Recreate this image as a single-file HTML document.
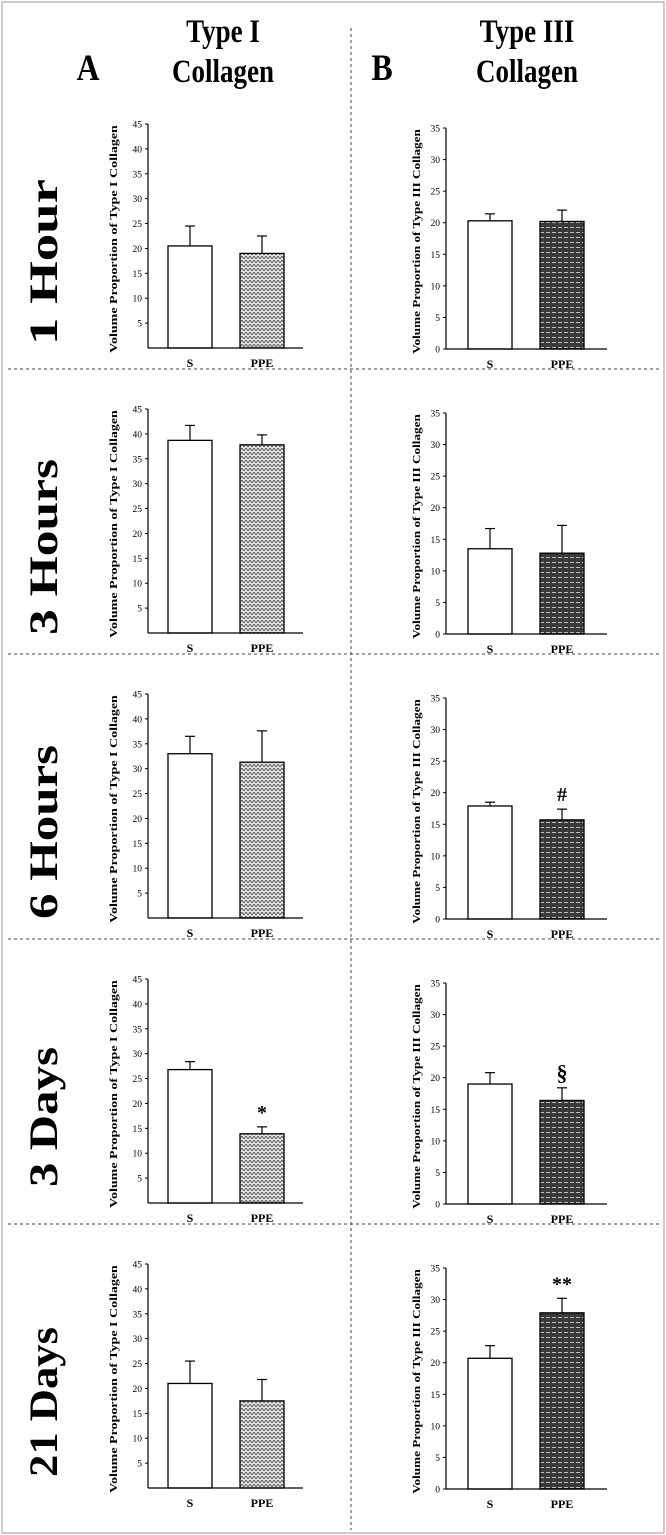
<!DOCTYPE html>
<html><head><meta charset="utf-8"><style>
html,body{margin:0;padding:0;background:#fff}
svg{display:block}
text{font-family:"Liberation Serif",serif;font-weight:bold;fill:#000}
</style></head><body>
<svg id="fig" width="666" height="1535" viewBox="0 0 666 1535">
<defs>
<pattern id="patA" width="4" height="4" patternUnits="userSpaceOnUse">
<rect width="4" height="4" fill="#e4e4e4"/><path d="M0 3 L2 0 L4 3" stroke="#555" stroke-width="0.9" fill="none"/>
</pattern>
<pattern id="patB" width="6" height="5" patternUnits="userSpaceOnUse">
<rect width="6" height="5" fill="#3a3a3a"/><line x1="0" y1="2.5" x2="4" y2="2.5" stroke="#ddd" stroke-width="0.8"/>
</pattern>
</defs>
<rect x="2" y="2" width="662" height="1531" fill="none" stroke="#999" stroke-width="1"/>
<line x1="351" y1="28" x2="351" y2="1530" stroke="#444" stroke-dasharray="3,3"/>
<text x="0" y="0" font-size="32" text-anchor="middle" transform="translate(88 80) scale(1 1.15)">A</text>
<text x="0" y="0" font-size="27" text-anchor="middle" transform="translate(223 42) scale(1 1.2)">Type I</text>
<text x="0" y="0" font-size="27" text-anchor="middle" transform="translate(223 82) scale(1 1.2)">Collagen</text>
<text x="0" y="0" font-size="32" text-anchor="middle" transform="translate(382 80) scale(1 1.15)">B</text>
<text x="0" y="0" font-size="27" text-anchor="middle" transform="translate(527 42) scale(1 1.2)">Type III</text>
<text x="0" y="0" font-size="27" text-anchor="middle" transform="translate(527 82) scale(1 1.2)">Collagen</text>
<g id="charts"></g>
</svg>
<script>
const rowLabels = ["1 Hour","3 Hours","6 Hours","3 Days","21 Days"];
const categories = ["S","PPE"];
const type1Means = [[20.5,19.0],[38.7,37.8],[33.0,31.3],[26.8,13.9],[21.0,17.5]];
const type1Errs  = [[4.0,3.5],[3.0,2.0],[3.5,6.3],[1.6,1.4],[4.5,4.3]];
const type1Marks = ["","","","*",""];
const type3Means = [[20.3,20.2],[13.5,12.8],[17.9,15.7],[19.0,16.4],[20.7,27.9]];
const type3Errs  = [[1.1,1.8],[3.2,4.4],[0.6,1.7],[1.8,2.0],[2.0,2.3]];
const type3Marks = ["","","#","§","**"];
const type1Ticks = [5,10,15,20,25,30,35,40,45];
const type3Ticks = [0,5,10,15,20,25,30,35];

const NS="http://www.w3.org/2000/svg";
const root=document.getElementById('charts');
function mk(tag,attrs,parent){const e=document.createElementNS(NS,tag);for(const k in attrs)e.setAttribute(k,attrs[k]);(parent||root).appendChild(e);return e;}
const STEP=285;
const rowLabelLen=[166,176,174,140,150];

// vertical text stretched along its length to target
function vtext(el,cx,cy,target){
  let len=0;try{len=el.getComputedTextLength();}catch(e){}
  const s=len>0?target/len:1;
  el.setAttribute('transform',`translate(${cx} ${cy}) rotate(-90) scale(${s} 1)`);
}

function chart(r,side){
  const left=side===0;
  const g=mk('g',{});
  
  
  const ax=left?148:446, x1=left?303:607;
  const top=(left?124:128)+r*STEP, base=348+r*STEP+(left?0:1);
  const ymax=left?45:35;
  const y=v=>base-(v/ymax)*(base-top);
  const means=left?type1Means[r]:type3Means[r], errs=left?type1Errs[r]:type3Errs[r];
  const barX=left?[168,240]:[468,540], bw=44;
  for(let i=0;i<2;i++){
    const eb=mk('line',{x1:barX[i]+bw/2,x2:barX[i]+bw/2,y1:y(means[i]),y2:y(means[i]+errs[i]),stroke:'#000','stroke-width':1.2},g);
    
    
    const cap=mk('line',{x1:barX[i]+bw/2-5,x2:barX[i]+bw/2+5,y1:y(means[i]+errs[i]),y2:y(means[i]+errs[i]),stroke:'#000','stroke-width':1.2},g);
    
    
    const b=mk('rect',{x:barX[i],y:y(means[i]),width:bw,height:base-y(means[i]),fill:i===0?'#fff':(left?'url(#patA)':'url(#patB)'),stroke:'#000','stroke-width':1.3},g);
    
    
    const t=mk('text',{x:barX[i]+bw/2,y:base+19,'font-size':12,'text-anchor':'middle'},g);
    t.textContent=categories[i];
    
    
  }
  const mark=left?type1Marks[r]:type3Marks[r];
  if(mark){
    const m=mk('text',{x:barX[1]+bw/2,y:y(means[1]+errs[1])-8,'font-size':mark==='§'?22:20,'text-anchor':'middle'},g);
    m.textContent=mark;
    
    
  }
  const ya=mk('line',{x1:ax,x2:ax,y1:top,y2:base,stroke:'#000','stroke-width':1.2},g);
  
  
  const xa=mk('line',{x1:ax,x2:x1,y1:base,y2:base,stroke:'#000','stroke-width':1.2},g);
  
  
  const ticks=left?type1Ticks:type3Ticks;
  ticks.forEach(v=>{
    const tk=mk('line',{x1:ax-3,x2:ax,y1:y(v),y2:y(v),stroke:'#000'},g);
    
    
    const tl=mk('text',{x:ax-6,y:y(v)+3.5,'font-size':9.5,'text-anchor':'end'},g);
    tl.style.fontWeight='normal';
    tl.textContent=v;
    
    
  });
  const tx=(left?113:416)+4, ty=(top+base)/2+3;
  const tt=mk('text',{x:0,y:0,'font-size':11,'text-anchor':'middle'},g);
  tt.textContent=left?'Volume Proportion of Type I Collagen':'Volume Proportion of Type III Collagen';
  
  
  vtext(tt,tx,ty,(base-top)+4);
}

for(let r=0;r<5;r++){
  const cy=262+r*STEP;
  const rl=mk('text',{x:0,y:0,'font-size':40,'text-anchor':'middle'});
  rl.textContent=rowLabels[r];
  
  
  vtext(rl,57,cy,rowLabelLen[r]);
  chart(r,0);chart(r,1);
  if(r<4){
    const d=mk('line',{x1:8,x2:660,y1:369+r*STEP,y2:369+r*STEP,stroke:'#444','stroke-dasharray':'3,3'});
    
    
  }
}
</script>
</body></html>
